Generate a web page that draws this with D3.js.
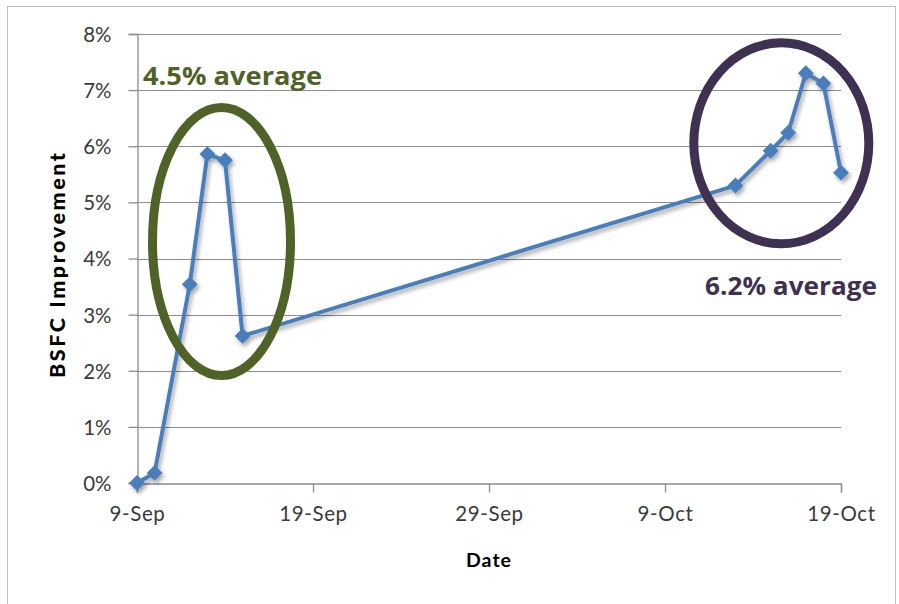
<!DOCTYPE html>
<html>
<head>
<meta charset="utf-8">
<script src="https://cdn.jsdelivr.net/npm/d3@7"></script>
<style>
  html, body { margin: 0; padding: 0; background: #fff; }
  svg { display: block; }
</style>
</head>
<body>
<svg id="chart" width="899" height="604"></svg>
<script>
// Test dates (day-month) and BSFC improvement in percent
const dates = ["9-Sep", "10-Sep", "12-Sep", "13-Sep", "14-Sep", "15-Sep",
               "13-Oct", "15-Oct", "16-Oct", "17-Oct", "18-Oct", "19-Oct"];
const improvement = [0.0, 0.18, 3.54, 5.86, 5.75, 2.62,
                     5.30, 5.92, 6.24, 7.30, 7.12, 5.53];
const xTickLabels = ["9-Sep", "19-Sep", "29-Sep", "9-Oct", "19-Oct"];
const yTicks = [0, 1, 2, 3, 4, 5, 6, 7, 8];
// Groups highlighted with an ellipse and their average callout
const groups = [
  { label: "4.5% average", first: "12-Sep", last: "15-Sep", color: "#4f6228" },
  { label: "6.2% average", first: "13-Oct", last: "19-Oct", color: "#3f3151" }
];

const parse = s => d3.timeParse("%d-%b-%Y")(s + "-2014");

const svg = d3.select("#chart");
const margin = { left: 137, right: 58, top: 34, bottom: 121 };
const W = 899, H = 604;
const x = d3.scaleTime()
  .domain([parse(xTickLabels[0]), parse(xTickLabels[xTickLabels.length - 1])])
  .range([margin.left, W - margin.right]);
const y = d3.scaleLinear().domain([0, 8]).range([H - margin.bottom, margin.top]);

const font = "Lato, 'Open Sans', sans-serif";
const calloutFont = "'Open Sans', Lato, sans-serif";
const points = dates.map((d, i) => ({ date: parse(d), value: improvement[i] }));

// Outer chart frame
svg.append("rect")
  .attr("x", 7.5).attr("y", 6.5).attr("width", 888).attr("height", 620)
  .attr("fill", "none").attr("stroke", "#bfbfbf").attr("stroke-width", 1);

const defs = svg.append("defs");
const shadow = defs.append("filter").attr("id", "shadow")
  .attr("x", "-10%").attr("y", "-10%").attr("width", "130%").attr("height", "130%");
shadow.append("feDropShadow").attr("dx", 2).attr("dy", 3)
  .attr("stdDeviation", 2).attr("flood-color", "#000").attr("flood-opacity", 0.35);

// Horizontal gridlines
svg.append("g").selectAll("line").data(yTicks.filter(t => t > 0)).join("line")
  .attr("x1", margin.left).attr("x2", W - margin.right)
  .attr("y1", d => Math.round(y(d)) + 0.5).attr("y2", d => Math.round(y(d)) + 0.5)
  .attr("stroke", "#8c8c8c").attr("stroke-width", 1.2);

// Y axis
const yAxis = svg.append("g")
  .attr("transform", `translate(${margin.left + 0.5},0)`)
  .call(d3.axisLeft(y).tickValues(yTicks).tickFormat(d => d + "%")
    .tickSize(9).tickPadding(17));
// X axis
const xAxis = svg.append("g")
  .attr("transform", `translate(0,${Math.round(y(0)) + 0.5})`)
  .call(d3.axisBottom(x).tickValues(xTickLabels.map(parse))
    .tickFormat(d3.timeFormat("%-d-%b")).tickSize(9).tickPadding(14));

[yAxis, xAxis].forEach(a => {
  a.selectAll("path.domain").attr("stroke", "#8c8c8c").attr("stroke-width", 1.3);
  a.selectAll(".tick line").attr("stroke", "#8c8c8c").attr("stroke-width", 1.3);
  a.selectAll("text").attr("fill", "#3a3a3a")
    .style("font-family", font).style("font-size", "20.5px");
});
yAxis.selectAll(".tick text").attr("dy", "0.36em");
xAxis.selectAll(".tick text").attr("dy", "0.71em").style("letter-spacing", "0.6px");

// Axis titles
svg.append("text")
  .attr("transform", `translate(65,${(153 + 378) / 2}) rotate(-90)`)
  .attr("text-anchor", "middle")
  .attr("textLength", 225).attr("lengthAdjust", "spacing")
  .style("font-family", font).style("font-weight", "900").style("font-size", "21.5px")
  .attr("fill", "#000").text("BSFC Improvement");
svg.append("text")
  .attr("x", (x.range()[0] + x.range()[1]) / 2).attr("y", 567)
  .attr("text-anchor", "middle")
  .style("font-family", font).style("font-weight", "bold").style("font-size", "19.5px")
  .style("letter-spacing", "1px")
  .attr("fill", "#000").text("Date");

// Series line with diamond markers
const series = svg.append("g").attr("filter", "url(#shadow)");
series.append("path").datum(points)
  .attr("fill", "none").attr("stroke", "#4a7ebb").attr("stroke-width", 4)
  .attr("stroke-linejoin", "round")
  .attr("d", d3.line().x(d => x(d.date)).y(d => y(d.value)));
series.selectAll("path.marker").data(points).join("path")
  .attr("class", "marker")
  .attr("transform", d => `translate(${x(d.date)},${y(d.value)})`)
  .attr("d", d3.symbol(d3.symbolDiamond2, 160))
  .attr("fill", "#4a7ebb");

// Highlight ellipses around each group
const ellipseSpec = [
  { cx: 221.5, cy: 241.5, rx: 69, ry: 134, tx: 143, ty: 85, w: 179 },
  { cx: 781.3, cy: 143.3, rx: 87.5, ry: 100.5, tx: 705, ty: 295, w: 172 }
];
groups.forEach((g, i) => {
  const e = ellipseSpec[i];
  svg.append("ellipse")
    .attr("cx", e.cx).attr("cy", e.cy).attr("rx", e.rx).attr("ry", e.ry)
    .attr("fill", "none").attr("stroke", g.color).attr("stroke-width", 9);
  svg.append("text")
    .attr("x", e.tx).attr("y", e.ty)
    .attr("textLength", e.w).attr("lengthAdjust", "spacingAndGlyphs")
    .style("font-family", calloutFont).style("font-weight", "bold").style("font-size", "25px")
    .attr("fill", g.color).text(g.label);
});
</script>
</body>
</html>
